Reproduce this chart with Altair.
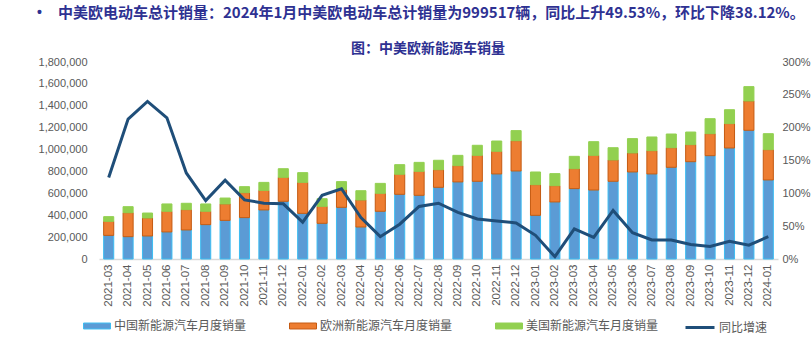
import altair as alt
import pandas as pd

months = ["2021-03","2021-04","2021-05","2021-06","2021-07","2021-08","2021-09","2021-10","2021-11","2021-12",
          "2022-01","2022-02","2022-03","2022-04","2022-05","2022-06","2022-07","2022-08","2022-09","2022-10","2022-11","2022-12",
          "2023-01","2023-02","2023-03","2023-04","2023-05","2023-06","2023-07","2023-08","2023-09","2023-10","2023-11","2023-12",
          "2024-01"]
china = [216000,204000,210000,247000,265000,314000,353000,378000,448000,527000,
         417000,326000,472000,292000,436000,591000,582000,655000,704000,710000,777000,804000,
         399000,521000,643000,630000,710000,795000,777000,838000,889000,944000,1014000,1176000,
         722000]
europe = [128000,219000,165000,189000,186000,122000,150000,228000,179000,219000,
          283000,155000,162000,247000,164000,183000,219000,161000,149000,237000,207000,277000,
          280000,149000,182000,317000,195000,174000,213000,179000,156000,201000,223000,268000,
          277000]
usa = [43000,55000,45000,67000,58000,67000,54000,55000,73000,79000,
       89000,70000,73000,85000,91000,88000,82000,86000,94000,92000,94000,92000,
       116000,110000,113000,125000,112000,131000,125000,125000,115000,137000,127000,131000,
       146000]
yoy = [1.24,2.13,2.40,2.15,1.31,0.89,1.20,0.90,0.85,0.84,
       0.56,0.97,1.07,0.63,0.34,0.53,0.80,0.85,0.71,0.61,0.58,0.55,
       0.36,0.035,0.46,0.33,0.74,0.40,0.29,0.29,0.22,0.19,0.27,0.21,
       0.34]

series = ["中国新能源汽车月度销量", "欧洲新能源汽车月度销量", "美国新能源汽车月度销量"]
line_name = "同比增速"
headline = "中美欧电动车总计销量：2024年1月中美欧电动车总计销量为999517辆，同比上升49.53%，环比下降38.12%。"
subtitle = "图：中美欧新能源车销量"

fills = ["#5B9BD5", "#ED7D31", "#92D050"]
strokes = ["#3DBDF2", "#C55A11", "#92D050"]
line_color = "#1F4E79"
title_color = "#2E3192"
label_color = "#595959"

rows = []
for i, m in enumerate(months):
    for k, (s, vals) in enumerate(zip(series, [china, europe, usa])):
        rows.append({"month": m, "series": s, "value": vals[i], "k": k})
df_bar = pd.DataFrame(rows)
df_line = pd.DataFrame({"month": months, "yoy": yoy, "name": [line_name] * len(months)})

x_enc = alt.X("month:N", sort=months,
              scale=alt.Scale(paddingInner=0.48, paddingOuter=0.24),
              axis=alt.Axis(title=None, labelAngle=270, labelAlign="right", labelBaseline="middle",
                            labelPadding=5, ticks=False, domainColor="#D9D9D9", domainWidth=1.5,
                            labelColor=label_color, labelFontSize=11.5, labelFont="Liberation Sans"))

bars = alt.Chart(df_bar).mark_bar(strokeWidth=1).encode(
    x=x_enc,
    y=alt.Y("value:Q", stack="zero",
            scale=alt.Scale(domain=[0, 1800000], nice=False),
            axis=alt.Axis(title=None, values=list(range(0, 1800001, 200000)), format=",.0f",
                          grid=False, domain=False, ticks=False, labelPadding=12,
                          labelColor=label_color, labelFontSize=11, labelFont="Liberation Sans")),
    color=alt.Color("series:N", scale=alt.Scale(domain=series, range=fills),
                    legend=alt.Legend(orient="none", legendX=-16, legendY=250, direction="horizontal",
                                      columns=3, columnPadding=40, title=None, padding=0,
                                      symbolType="M-1,-0.22H1V0.22H-1Z", symbolSize=729,
                                      symbolStrokeWidth=1, labelOffset=3, labelLimit=300,
                                      labelFont="Noto Sans CJK SC", labelFontSize=12,
                                      labelColor=label_color)),
    stroke=alt.Stroke("series:N", scale=alt.Scale(domain=series, range=strokes), legend=None),
    order=alt.Order("k:Q", sort="ascending"),
)

line = alt.Chart(df_line).mark_line(strokeWidth=3).encode(
    x=alt.X("month:N", sort=months),
    y=alt.Y("yoy:Q", scale=alt.Scale(domain=[0, 3], nice=False),
            axis=alt.Axis(title=None, orient="right", values=[0, 0.5, 1, 1.5, 2, 2.5, 3], format=".0%",
                          grid=False, domain=False, ticks=False, labelPadding=4,
                          labelColor=label_color, labelFontSize=11, labelFont="Liberation Sans")),
    color=alt.Color("name:N", scale=alt.Scale(domain=[line_name], range=[line_color]),
                    legend=alt.Legend(orient="none", legendX=585, legendY=249.5, title=None, padding=0,
                                      symbolType="stroke", symbolSize=841, symbolStrokeWidth=3,
                                      labelOffset=3, labelFont="Noto Sans CJK SC", labelFontSize=12,
                                      labelColor=label_color)),
)

bullet = alt.Chart(pd.DataFrame({"t": ["•"]})).mark_text(
    align="left", baseline="middle", font="Liberation Sans", fontSize=14, fontWeight="bold",
    color=title_color).encode(text="t:N", x=alt.value(-62), y=alt.value(-49))

head = alt.Chart(pd.DataFrame({"t": [headline]})).mark_text(
    align="left", baseline="middle", font="Noto Sans CJK SC", fontSize=15, fontWeight="bold",
    color=title_color).encode(text="t:N", x=alt.value(-41), y=alt.value(-49))

sub = alt.Chart(pd.DataFrame({"t": [subtitle]})).mark_text(
    align="center", baseline="middle", font="Noto Sans CJK SC", fontSize=14, fontWeight="bold",
    color=title_color).encode(text="t:N", x=alt.value(329), y=alt.value(-13))

chart = alt.layer(bars, line, bullet, head, sub).resolve_scale(
    y="independent", color="independent", stroke="independent"
).properties(
    width=679, height=197,
    autosize=alt.AutoSizeParams(type="none"),
    padding={"left": 99, "top": 62, "right": 34, "bottom": 84},
).configure_view(stroke=None)

chart.save("out.html", embed_options={"renderer": "svg", "actions": False})
